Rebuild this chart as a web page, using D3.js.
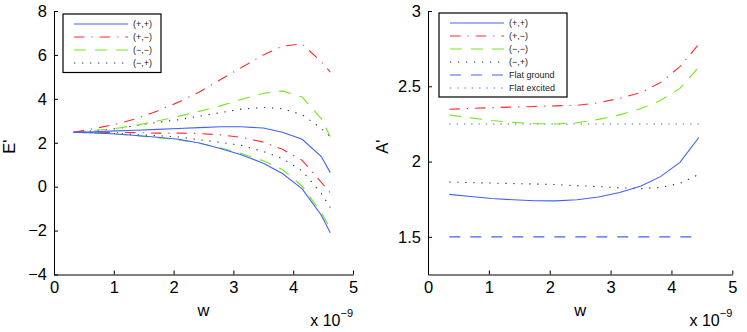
<!DOCTYPE html>
<html>
<head>
<meta charset="utf-8">
<style>
  body { margin: 0; background: #fff; }
  svg text { font-family: "Liberation Sans", Arial, Helvetica, sans-serif; }
</style>
<script src="https://d3js.org/d3.v7.min.js"></script>
</head>
<body>
<svg id="chart" width="747" height="332"></svg>
<script>
// ---- data ----
// left panel, E' against w (units of 1e-9), two branches per mode
var leftW = [0.33, 0.68, 1.03, 1.38, 1.73, 2.08, 2.43, 2.78, 3.13, 3.5, 3.82, 4.15, 4.47, 4.62];
var ePPhigh = [2.48, 2.50, 2.54, 2.57, 2.61, 2.65, 2.69, 2.73, 2.73, 2.67, 2.48, 2.16, 1.37, 0.64];
var ePPlow  = [2.48, 2.45, 2.40, 2.33, 2.25, 2.16, 1.99, 1.74, 1.45, 1.07, 0.60, -0.10, -1.30, -2.10];
var ePMhigh = [2.48, 2.65, 2.84, 3.10, 3.45, 3.85, 4.31, 4.87, 5.42, 6.00, 6.40, 6.50, 5.68, 5.22];
var ePMlow  = [2.48, 2.48, 2.47, 2.46, 2.44, 2.44, 2.42, 2.36, 2.25, 2.03, 1.70, 1.20, 0.20, -0.28];
var eMMhigh = [2.48, 2.56, 2.65, 2.80, 2.99, 3.20, 3.43, 3.68, 3.97, 4.25, 4.36, 4.08, 3.10, 2.28];
var eMMlow  = [2.48, 2.45, 2.40, 2.32, 2.23, 2.13, 1.98, 1.77, 1.51, 1.18, 0.78, 0.02, -1.18, -1.90];
var eMPhigh = [2.48, 2.55, 2.64, 2.78, 2.93, 3.05, 3.21, 3.37, 3.53, 3.61, 3.55, 3.28, 2.65, 2.28];
var eMPlow  = [2.48, 2.46, 2.42, 2.37, 2.32, 2.26, 2.14, 2.02, 1.88, 1.60, 1.28, 0.72, -0.30, -0.95];

// right panel, A' against w
var rightW = [0.35, 0.7, 1.05, 1.4, 1.75, 2.1, 2.45, 2.8, 3.15, 3.5, 3.82, 4.14, 4.45];
var aPP = [1.782, 1.768, 1.755, 1.746, 1.740, 1.739, 1.746, 1.765, 1.795, 1.838, 1.900, 1.995, 2.160];
var aPM = [2.347, 2.353, 2.358, 2.362, 2.366, 2.370, 2.374, 2.390, 2.420, 2.458, 2.525, 2.630, 2.780];
var aMM = [2.309, 2.290, 2.273, 2.260, 2.252, 2.250, 2.258, 2.280, 2.310, 2.352, 2.405, 2.486, 2.628];
var aMP = [1.864, 1.860, 1.857, 1.854, 1.851, 1.847, 1.840, 1.834, 1.826, 1.820, 1.828, 1.855, 1.915];
var flatGround = [1.5, 1.5];
var flatExcited = [2.25, 2.25];
var flatW = [0.35, 4.45];

var xTicks = [0, 1, 2, 3, 4, 5];
var leftYTicks = [-4, -2, 0, 2, 4, 6, 8];
var rightYTicks = [1.5, 2, 2.5, 3];
var leftLabels = ["(+,+)", "(+,\u2212)", "(\u2212,\u2212)", "(\u2212,+)"];
var rightLabels = ["(+,+)", "(+,\u2212)", "(\u2212,\u2212)", "(\u2212,+)", "Flat ground", "Flat excited"];

// line styles (matlab-ish)
var st = {
  pp: {color: "#4262f5", dash: null},
  pm: {color: "#ff2a2a", dash: "10.5,7,1.2,7"},
  mm: {color: "#78e61e", dash: "12,9"},
  mp: {color: "#333333", dash: "1.3,6.7"},
  fg: {color: "#4262f5", dash: "11,10"},
  fe: {color: "#4262f5", dash: "1.3,6"}
};

var svg = d3.select("#chart");

function panel(box, yDomain, yTicks, yLabel, series, legend) {
  var x = d3.scaleLinear().domain([0, 5]).range([box.left, box.right]);
  var y = d3.scaleLinear().domain(yDomain).range([box.bottom, box.top]);
  var fmt = d3.format("~g");

  var g = svg.append("g");

  // lines first, axes on top
  var line = d3.line().x(function(d){ return x(d[0]); }).y(function(d){ return y(d[1]); });
  series.forEach(function(s){
    var pts = s.w.map(function(w, i){ return [w, s.v[i]]; });
    g.append("path")
      .attr("d", line(pts))
      .attr("fill", "none")
      .attr("stroke", s.style.color)
      .attr("stroke-width", 1.1)
      .attr("stroke-dasharray", s.style.dash);
  });

  var ax = g.append("g")
    .attr("transform", "translate(0," + box.bottom + ")")
    .call(d3.axisBottom(x).tickValues(xTicks).tickFormat(fmt).tickSize(-4).tickSizeOuter(0).tickPadding(7));
  var ay = g.append("g")
    .attr("transform", "translate(" + box.left + ",0)")
    .call(d3.axisLeft(y).tickValues(yTicks).tickFormat(fmt).tickSize(-4).tickSizeOuter(0).tickPadding(7));
  [ax, ay].forEach(function(a){
    a.selectAll("text").style("font-size", "16.5px").attr("fill", "#000");
    a.selectAll("line").attr("stroke", "#000");
    a.select(".domain").attr("stroke", "#000");
  });

  g.append("text")
    .attr("x", (box.left + box.right) / 2)
    .attr("y", 316)
    .attr("text-anchor", "middle")
    .style("font-size", "16.5px")
    .text("w");

  var sc = g.append("text")
    .attr("x", box.right)
    .attr("y", 326)
    .attr("text-anchor", "end")
    .style("font-size", "16px");
  sc.append("tspan").text("x 10");
  sc.append("tspan").attr("dy", -9).style("font-size", "11px").text("\u22129");

  g.append("text")
    .attr("transform", "translate(" + box.ylabX + "," + ((box.top + box.bottom) / 2 + 4) + ") rotate(-90)")
    .attr("text-anchor", "middle")
    .style("font-size", "16.5px")
    .text(yLabel);

  // legend
  var lg = g.append("g");
  lg.append("rect")
    .attr("x", legend.x).attr("y", legend.y)
    .attr("width", legend.w).attr("height", legend.h)
    .attr("fill", "#fff").attr("stroke", "#000").attr("stroke-width", 1.2);
  legend.items.forEach(function(it, i){
    var yy = legend.y + 10 + i * 13;
    lg.append("line")
      .attr("x1", legend.x + 11).attr("x2", legend.x + 65)
      .attr("y1", yy).attr("y2", yy)
      .attr("stroke", it.style.color)
      .attr("stroke-width", 1.1)
      .attr("stroke-dasharray", it.style.dash);
    lg.append("text")
      .attr("x", legend.x + 70).attr("y", yy)
      .attr("dominant-baseline", "central")
      .style("font-size", "9px")
      .attr("fill", "#222")
      .text(it.label);
  });
}

panel({left: 54, right: 353, top: 11, bottom: 274.5, ylabX: 15},
  [-4, 8], leftYTicks, "E'",
  [
    {w: leftW, v: eMPhigh, style: st.mp}, {w: leftW, v: eMPlow, style: st.mp},
    {w: leftW, v: eMMhigh, style: st.mm}, {w: leftW, v: eMMlow, style: st.mm},
    {w: leftW, v: ePMhigh, style: st.pm}, {w: leftW, v: ePMlow, style: st.pm},
    {w: leftW, v: ePPhigh, style: st.pp}, {w: leftW, v: ePPlow, style: st.pp}
  ],
  {x: 63, y: 14, w: 98, h: 58.5, items: [
    {label: leftLabels[0], style: st.pp}, {label: leftLabels[1], style: st.pm},
    {label: leftLabels[2], style: st.mm}, {label: leftLabels[3], style: st.mp}
  ]});

panel({left: 428, right: 732.3, top: 11, bottom: 274.5, ylabX: 388},
  [1.25, 3], rightYTicks, "A'",
  [
    {w: flatW, v: flatGround, style: st.fg}, {w: flatW, v: flatExcited, style: st.fe},
    {w: rightW, v: aMP, style: st.mp}, {w: rightW, v: aMM, style: st.mm},
    {w: rightW, v: aPM, style: st.pm}, {w: rightW, v: aPP, style: st.pp}
  ],
  {x: 439, y: 13, w: 128, h: 84, items: [
    {label: rightLabels[0], style: st.pp}, {label: rightLabels[1], style: st.pm},
    {label: rightLabels[2], style: st.mm}, {label: rightLabels[3], style: st.mp},
    {label: rightLabels[4], style: st.fg}, {label: rightLabels[5], style: st.fe}
  ]});
</script>
</body>
</html>
